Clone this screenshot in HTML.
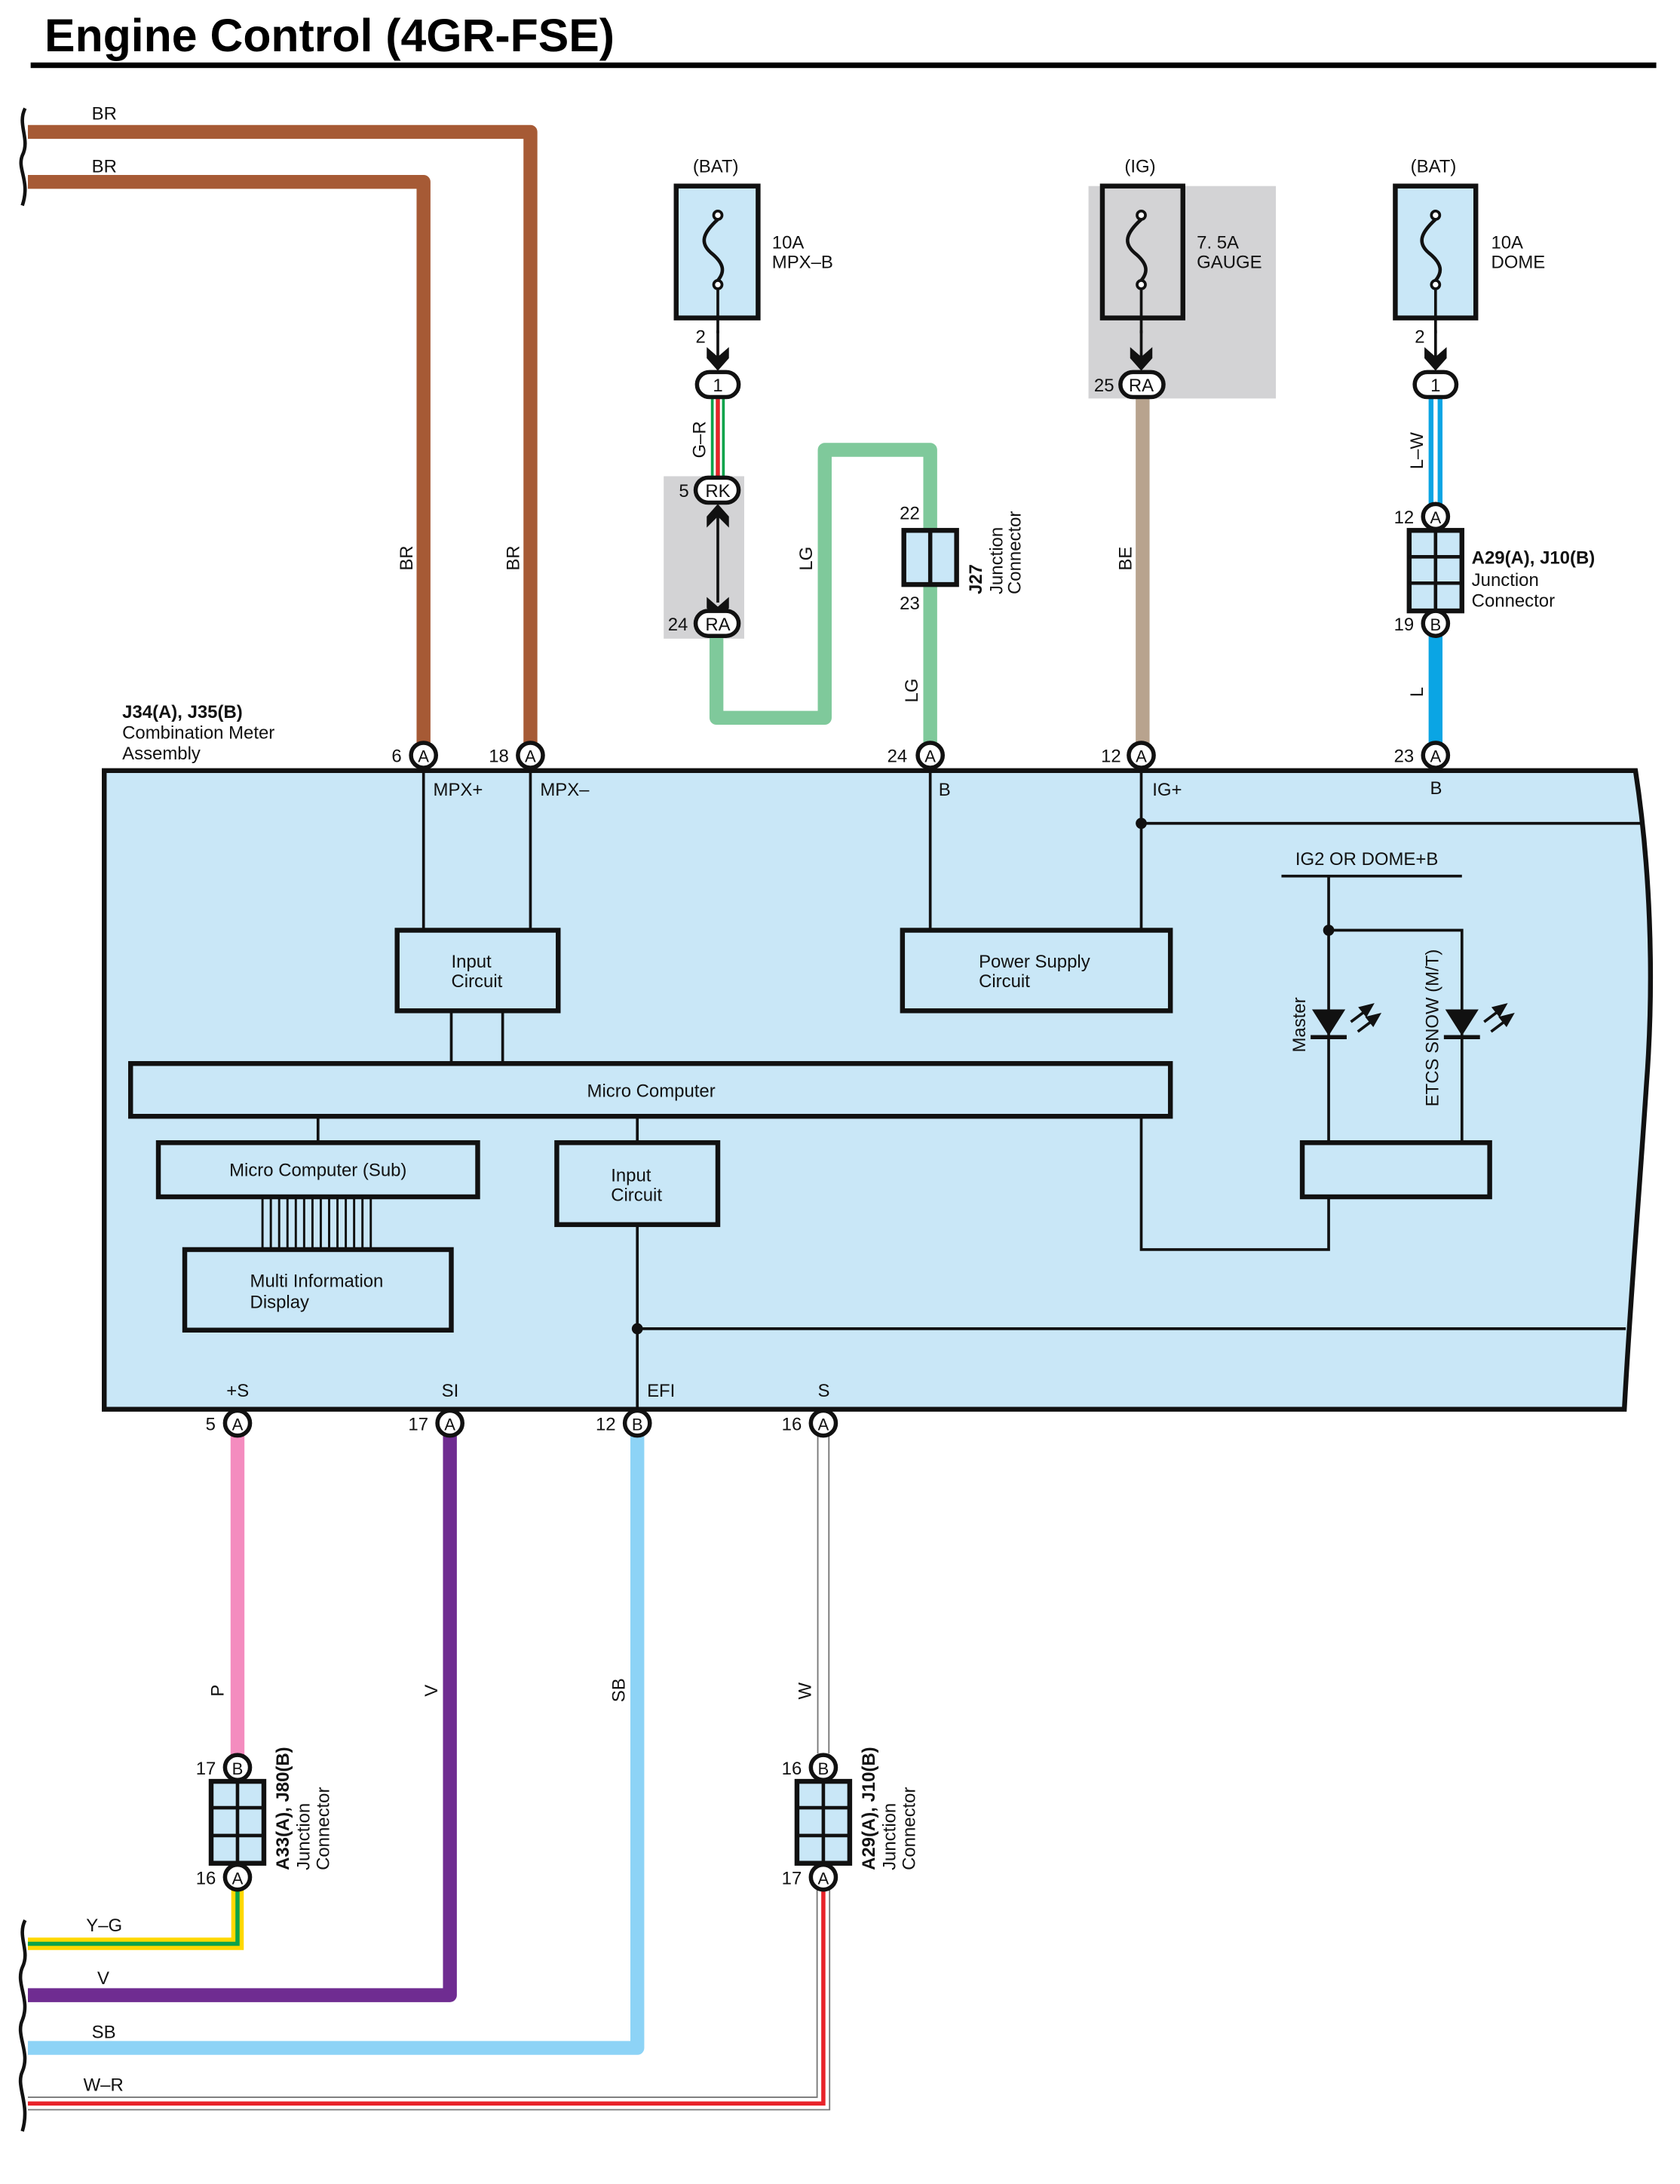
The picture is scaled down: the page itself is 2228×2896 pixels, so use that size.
<!DOCTYPE html>
<html><head><meta charset="utf-8"><style>
html,body{margin:0;padding:0;background:#fff;}
svg{display:block;}
text{font-family:"Liberation Sans",sans-serif;fill:#111;}
</style></head><body>
<svg width="2228" height="2896" viewBox="0 0 1210 1573" xmlns="http://www.w3.org/2000/svg">
<defs>
<g id="arr"><line x1="0" y1="-30" x2="0" y2="-8" stroke="#111" stroke-width="2"/><polygon points="-8,-18 0,-11 8,-18 8,-10 0,-1 -8,-10" fill="#111"/></g>
</defs>
<rect width="1210" height="1573" fill="#fff"/>
<!-- title -->
<text x="32" y="37" font-size="33" font-weight="bold" style="fill:#000">Engine Control (4GR-FSE)</text>
<rect x="22" y="45" width="1171" height="4" fill="#000"/>

<!-- grey backgrounds -->
<rect x="478" y="343" width="58" height="117" fill="#d3d3d5"/>
<rect x="784" y="134" width="135" height="153" fill="#d3d3d5"/>

<!-- BR wires -->
<path d="M20,95 H382 V544" fill="none" stroke="#a65a35" stroke-width="10" stroke-linejoin="round"/>
<path d="M20,131 H305 V544" fill="none" stroke="#a65a35" stroke-width="10" stroke-linejoin="round"/>
<text x="66" y="86" font-size="13">BR</text>
<text x="66" y="124" font-size="13">BR</text>
<text transform="translate(297,411) rotate(-90)" font-size="13">BR</text>
<text transform="translate(374,411) rotate(-90)" font-size="13">BR</text>
<path d="M18,78 C12,90 22,100 16,112 C12,122 22,130 16,148" fill="none" stroke="#111" stroke-width="2.5"/>

<!-- MPX-B fuse -->
<text x="499" y="124" font-size="13">(BAT)</text>
<rect x="487" y="134" width="59" height="95" fill="#c9e7f7" stroke="#111" stroke-width="3.5"/>
<circle cx="517" cy="155" r="3" fill="#fff" stroke="#111" stroke-width="2"/>
<circle cx="517" cy="205" r="3" fill="#fff" stroke="#111" stroke-width="2"/>
<path d="M517,158 C506,168 504,175 512,182 C522,190 522,196 517,202" fill="none" stroke="#111" stroke-width="2.5"/>
<text x="556" y="179" font-size="13">10A</text>
<text x="556" y="193" font-size="13">MPX–B</text>
<line x1="517" y1="208" x2="517" y2="240" stroke="#111" stroke-width="2"/>
<use href="#arr" x="517" y="268"/>
<text x="501" y="247" font-size="13">2</text>
<!-- G-R wire -->
<rect x="512" y="286" width="10" height="58" fill="#0ca34b"/>
<rect x="515.5" y="286" width="3" height="58" fill="#e8232a"/>
<rect x="514" y="286" width="1.5" height="58" fill="#fff"/><rect x="518.5" y="286" width="1.5" height="58" fill="#fff"/>
<text transform="translate(508,330) rotate(-90)" font-size="13">G–R</text>
<rect x="502" y="268" width="30" height="18" rx="9" fill="#fff" stroke="#111" stroke-width="3"/>
<text x="517" y="282" font-size="13" text-anchor="middle">1</text>
<!-- RK-RA -->
<line x1="517" y1="368" x2="517" y2="434" stroke="#111" stroke-width="2"/>
<polygon points="509,364 517,372 525,364 525,372 517,381 509,372" fill="#111" transform="rotate(180 517 372)"/>
<polygon points="509,430 517,437 525,430 525,438 517,447 509,438" fill="#111"/>
<!-- LG wire -->
<path d="M516,455 V517 H594 V324 H670 V544" fill="none" stroke="#7fc99b" stroke-width="10" stroke-linejoin="round"/>
<rect x="501" y="344" width="31" height="18" rx="9" fill="#fff" stroke="#111" stroke-width="3"/>
<text x="517" y="358" font-size="13" text-anchor="middle">RK</text>
<text x="489" y="358" font-size="13">5</text>
<rect x="501" y="440" width="31" height="18" rx="9" fill="#fff" stroke="#111" stroke-width="3"/>
<text x="517" y="454" font-size="13" text-anchor="middle">RA</text>
<text x="481" y="454" font-size="13">24</text>
<text transform="translate(585,411) rotate(-90)" font-size="13">LG</text>
<text transform="translate(661,506) rotate(-90)" font-size="13">LG</text>
<!-- J27 -->
<rect x="651" y="382" width="38" height="39" fill="#c9e7f7" stroke="#111" stroke-width="3.5"/>
<line x1="670" y1="382" x2="670" y2="421" stroke="#111" stroke-width="3"/>
<text x="648" y="374" font-size="13">22</text>
<text x="648" y="439" font-size="13">23</text>
<text transform="translate(707,428) rotate(-90)" font-size="13" font-weight="bold">J27</text>
<text transform="translate(722,428) rotate(-90)" font-size="13">Junction</text>
<text transform="translate(735,428) rotate(-90)" font-size="13">Connector</text>

<!-- IG GAUGE fuse -->
<text x="810" y="124" font-size="13">(IG)</text>
<rect x="794" y="134" width="58" height="95" fill="#d3d3d5" stroke="#111" stroke-width="3.5"/>
<circle cx="822" cy="155" r="3" fill="#fff" stroke="#111" stroke-width="2"/>
<circle cx="822" cy="205" r="3" fill="#fff" stroke="#111" stroke-width="2"/>
<path d="M822,158 C811,168 809,175 817,182 C827,190 827,196 822,202" fill="none" stroke="#111" stroke-width="2.5"/>
<text x="862" y="179" font-size="13">7. 5A</text>
<text x="862" y="193" font-size="13">GAUGE</text>
<line x1="822" y1="208" x2="822" y2="240" stroke="#111" stroke-width="2"/>
<use href="#arr" x="822" y="268"/>
<rect x="818" y="286" width="10" height="258" fill="#b8a38e"/>
<rect x="807" y="268" width="31" height="18" rx="9" fill="#fff" stroke="#111" stroke-width="3"/>
<text x="822" y="282" font-size="13" text-anchor="middle">RA</text>
<text x="788" y="282" font-size="13">25</text>
<text transform="translate(815,411) rotate(-90)" font-size="13">BE</text>

<!-- DOME fuse -->
<text x="1016" y="124" font-size="13">(BAT)</text>
<rect x="1005" y="134" width="58" height="95" fill="#c9e7f7" stroke="#111" stroke-width="3.5"/>
<circle cx="1034" cy="155" r="3" fill="#fff" stroke="#111" stroke-width="2"/>
<circle cx="1034" cy="205" r="3" fill="#fff" stroke="#111" stroke-width="2"/>
<path d="M1034,158 C1023,168 1021,175 1029,182 C1039,190 1039,196 1034,202" fill="none" stroke="#111" stroke-width="2.5"/>
<text x="1074" y="179" font-size="13">10A</text>
<text x="1074" y="193" font-size="13">DOME</text>
<line x1="1034" y1="208" x2="1034" y2="240" stroke="#111" stroke-width="2"/>
<use href="#arr" x="1034" y="268"/>
<text x="1019" y="247" font-size="13">2</text>
<rect x="1029" y="286" width="10" height="80" fill="#0aa5e4"/>
<rect x="1032.5" y="286" width="3" height="80" fill="#fff"/>
<rect x="1019" y="268" width="30" height="18" rx="9" fill="#fff" stroke="#111" stroke-width="3"/>
<text x="1034" y="282" font-size="13" text-anchor="middle">1</text>
<text transform="translate(1025,338) rotate(-90)" font-size="13">L–W</text>
<rect x="1029" y="458" width="10" height="86" fill="#0aa5e4"/>
<text transform="translate(1025,502) rotate(-90)" font-size="13">L</text>
<rect x="1015" y="382" width="38" height="58" fill="#c9e7f7" stroke="#111" stroke-width="3.5"/>
<line x1="1034" y1="382" x2="1034" y2="440" stroke="#111" stroke-width="2.5"/>
<line x1="1015" y1="401" x2="1053" y2="401" stroke="#111" stroke-width="2.5"/>
<line x1="1015" y1="420" x2="1053" y2="420" stroke="#111" stroke-width="2.5"/>
<circle cx="1034" cy="372" r="9" fill="#fff" stroke="#111" stroke-width="3"/>
<text x="1034" y="377" font-size="12" text-anchor="middle">A</text>
<text x="1004" y="377" font-size="13">12</text>
<circle cx="1034" cy="449" r="9" fill="#fff" stroke="#111" stroke-width="3"/>
<text x="1034" y="454" font-size="12" text-anchor="middle">B</text>
<text x="1004" y="454" font-size="13">19</text>
<text x="1060" y="406" font-size="13" font-weight="bold">A29(A), J10(B)</text>
<text x="1060" y="422" font-size="13">Junction</text>
<text x="1060" y="437" font-size="13">Connector</text>

<!-- Meter body -->
<path d="M75,555 H1178 C1188,620 1192,700 1186,780 C1180,870 1174,940 1170,1015 H75 Z" fill="#c9e7f7" stroke="#111" stroke-width="3.5"/>
<text x="88" y="517" font-size="13" font-weight="bold">J34(A), J35(B)</text>
<text x="88" y="532" font-size="13">Combination Meter</text>
<text x="88" y="547" font-size="13">Assembly</text>

<g stroke="#111" stroke-width="2" fill="none">
<line x1="305" y1="555" x2="305" y2="670"/>
<line x1="382" y1="555" x2="382" y2="670"/>
<line x1="670" y1="555" x2="670" y2="670"/>
<line x1="822" y1="555" x2="822" y2="670"/>
<line x1="822" y1="593" x2="1183" y2="593"/>
<line x1="325" y1="728" x2="325" y2="766"/>
<line x1="362" y1="728" x2="362" y2="766"/>
<line x1="229" y1="804" x2="229" y2="823"/>
<line x1="459" y1="804" x2="459" y2="823"/>
<path d="M822,804 V900 H957 V862"/>
<line x1="459" y1="882" x2="459" y2="1015"/>
<line x1="459" y1="957" x2="1171" y2="957"/>
<line x1="923" y1="631" x2="1053" y2="631"/>
<line x1="957" y1="631" x2="957" y2="823"/>
<path d="M957,670 H1053 V823"/>
</g>
<g stroke="#111" stroke-width="1.6">
<line x1="189" y1="862" x2="189" y2="900"/><line x1="195" y1="862" x2="195" y2="900"/><line x1="201" y1="862" x2="201" y2="900"/><line x1="207" y1="862" x2="207" y2="900"/><line x1="213" y1="862" x2="213" y2="900"/><line x1="219" y1="862" x2="219" y2="900"/><line x1="225" y1="862" x2="225" y2="900"/><line x1="231" y1="862" x2="231" y2="900"/><line x1="237" y1="862" x2="237" y2="900"/><line x1="243" y1="862" x2="243" y2="900"/><line x1="249" y1="862" x2="249" y2="900"/><line x1="255" y1="862" x2="255" y2="900"/><line x1="261" y1="862" x2="261" y2="900"/><line x1="267" y1="862" x2="267" y2="900"/>
</g>
<circle cx="822" cy="593" r="4" fill="#111"/>
<circle cx="459" cy="957" r="4" fill="#111"/>
<circle cx="957" cy="670" r="4" fill="#111"/>

<g fill="#c9e7f7" stroke="#111" stroke-width="3.5">
<rect x="286" y="670" width="116" height="58"/>
<rect x="650" y="670" width="193" height="58"/>
<rect x="94" y="766" width="749" height="38"/>
<rect x="114" y="823" width="230" height="39"/>
<rect x="133" y="900" width="192" height="58"/>
<rect x="401" y="823" width="116" height="59"/>
<rect x="938" y="823" width="135" height="39"/>
</g>
<text x="325" y="697" font-size="13">Input</text>
<text x="325" y="711" font-size="13">Circuit</text>
<text x="705" y="697" font-size="13">Power Supply</text>
<text x="705" y="711" font-size="13">Circuit</text>
<text x="469" y="790" font-size="13" text-anchor="middle">Micro Computer</text>
<text x="229" y="847" font-size="13" text-anchor="middle">Micro Computer (Sub)</text>
<text x="180" y="927" font-size="13">Multi Information</text>
<text x="180" y="942" font-size="13">Display</text>
<text x="440" y="851" font-size="13">Input</text>
<text x="440" y="865" font-size="13">Circuit</text>
<text x="312" y="573" font-size="13">MPX+</text>
<text x="389" y="573" font-size="13">MPX–</text>
<text x="676" y="573" font-size="13">B</text>
<text x="830" y="573" font-size="13">IG+</text>
<text x="1030" y="572" font-size="13">B</text>
<text x="933" y="623" font-size="13">IG2 OR DOME+B</text>
<!-- LEDs -->
<polygon points="945,727 969,727 957,746" fill="#111"/>
<line x1="944" y1="747" x2="970" y2="747" stroke="#111" stroke-width="3"/>
<polygon points="1041,727 1065,727 1053,746" fill="#111"/>
<line x1="1040" y1="747" x2="1066" y2="747" stroke="#111" stroke-width="3"/>
<g stroke="#111" stroke-width="2" fill="#111">
<line x1="973" y1="736" x2="985" y2="727"/><polygon points="988,724 980,726 984,731"/>
<line x1="978" y1="743" x2="990" y2="734"/><polygon points="993,731 985,733 989,738"/>
<line x1="1069" y1="736" x2="1081" y2="727"/><polygon points="1084,724 1076,726 1080,731"/>
<line x1="1074" y1="743" x2="1086" y2="734"/><polygon points="1089,731 1081,733 1085,738"/>
</g>
<text transform="translate(940,758) rotate(-90)" font-size="13">Master</text>
<text transform="translate(1036,797) rotate(-90)" font-size="13">ETCS SNOW (M/T)</text>

<!-- top connectors on meter -->
<g font-size="13">
<circle cx="305" cy="544" r="9" fill="#fff" stroke="#111" stroke-width="3"/><text x="305" y="549" font-size="12" text-anchor="middle">A</text><text x="282" y="549">6</text>
<circle cx="382" cy="544" r="9" fill="#fff" stroke="#111" stroke-width="3"/><text x="382" y="549" font-size="12" text-anchor="middle">A</text><text x="352" y="549">18</text>
<circle cx="670" cy="544" r="9" fill="#fff" stroke="#111" stroke-width="3"/><text x="670" y="549" font-size="12" text-anchor="middle">A</text><text x="639" y="549">24</text>
<circle cx="822" cy="544" r="9" fill="#fff" stroke="#111" stroke-width="3"/><text x="822" y="549" font-size="12" text-anchor="middle">A</text><text x="793" y="549">12</text>
<circle cx="1034" cy="544" r="9" fill="#fff" stroke="#111" stroke-width="3"/><text x="1034" y="549" font-size="12" text-anchor="middle">A</text><text x="1004" y="549">23</text>
</g>

<!-- bottom wires -->
<rect x="166" y="1034" width="10" height="230" fill="#f48cbf"/>
<path d="M324,1034 V1437 H20" fill="none" stroke="#6f2c91" stroke-width="10" stroke-linejoin="round"/>
<path d="M459,1034 V1475 H20" fill="none" stroke="#8dd3f6" stroke-width="10" stroke-linejoin="round"/>
<path d="M593,1034 V1263" fill="none" stroke="#777" stroke-width="9"/>
<path d="M593,1034 V1263" fill="none" stroke="#fff" stroke-width="7"/>
<!-- Y-G -->
<path d="M171,1360 V1400 H20" fill="none" stroke="#ffd800" stroke-width="9"/>
<path d="M171,1360 V1400 H20" fill="none" stroke="#0ca34b" stroke-width="3"/>
<!-- W-R -->
<path d="M593,1360 V1515 H20" fill="none" stroke="#777" stroke-width="10"/>
<path d="M593,1360 V1515 H20" fill="none" stroke="#fff" stroke-width="8"/>
<path d="M593,1360 V1515 H20" fill="none" stroke="#e8232a" stroke-width="3"/>
<path d="M18,1383 C12,1395 22,1405 16,1417 C11,1429 22,1440 16,1455 C11,1466 22,1478 16,1492 C11,1503 22,1515 16,1535" fill="none" stroke="#111" stroke-width="2.5"/>
<text x="62" y="1391" font-size="13">Y–G</text>
<text x="70" y="1429" font-size="13">V</text>
<text x="66" y="1468" font-size="13">SB</text>
<text x="60" y="1506" font-size="13">W–R</text>
<text transform="translate(161,1222) rotate(-90)" font-size="13">P</text>
<text transform="translate(315,1222) rotate(-90)" font-size="13">V</text>
<text transform="translate(450,1226) rotate(-90)" font-size="13">SB</text>
<text transform="translate(584,1224) rotate(-90)" font-size="13">W</text>

<!-- bottom meter connectors -->
<text x="163" y="1006" font-size="13">+S</text>
<text x="318" y="1006" font-size="13">SI</text>
<text x="466" y="1006" font-size="13">EFI</text>
<text x="589" y="1006" font-size="13">S</text>
<g font-size="13">
<circle cx="171" cy="1025" r="9" fill="#fff" stroke="#111" stroke-width="3"/><text x="171" y="1030" font-size="12" text-anchor="middle">A</text><text x="148" y="1030">5</text>
<circle cx="324" cy="1025" r="9" fill="#fff" stroke="#111" stroke-width="3"/><text x="324" y="1030" font-size="12" text-anchor="middle">A</text><text x="294" y="1030">17</text>
<circle cx="459" cy="1025" r="9" fill="#fff" stroke="#111" stroke-width="3"/><text x="459" y="1030" font-size="12" text-anchor="middle">B</text><text x="429" y="1030">12</text>
<circle cx="593" cy="1025" r="9" fill="#fff" stroke="#111" stroke-width="3"/><text x="593" y="1030" font-size="12" text-anchor="middle">A</text><text x="563" y="1030">16</text>
</g>

<!-- junction connectors bottom -->
<g>
<rect x="152" y="1283" width="38" height="59" fill="#c9e7f7" stroke="#111" stroke-width="3.5"/>
<line x1="171" y1="1283" x2="171" y2="1342" stroke="#111" stroke-width="2.5"/>
<line x1="152" y1="1302" x2="190" y2="1302" stroke="#111" stroke-width="2.5"/>
<line x1="152" y1="1322" x2="190" y2="1322" stroke="#111" stroke-width="2.5"/>
<circle cx="171" cy="1273" r="9" fill="#fff" stroke="#111" stroke-width="3"/><text x="171" y="1278" font-size="12" text-anchor="middle">B</text><text x="141" y="1278" font-size="13">17</text>
<circle cx="171" cy="1352" r="9" fill="#fff" stroke="#111" stroke-width="3"/><text x="171" y="1357" font-size="12" text-anchor="middle">A</text><text x="141" y="1357" font-size="13">16</text>
<text transform="translate(208,1347) rotate(-90)" font-size="13" font-weight="bold">A33(A), J80(B)</text>
<text transform="translate(223,1347) rotate(-90)" font-size="13">Junction</text>
<text transform="translate(237,1347) rotate(-90)" font-size="13">Connector</text>
</g>
<g>
<rect x="574" y="1283" width="38" height="59" fill="#c9e7f7" stroke="#111" stroke-width="3.5"/>
<line x1="593" y1="1283" x2="593" y2="1342" stroke="#111" stroke-width="2.5"/>
<line x1="574" y1="1302" x2="612" y2="1302" stroke="#111" stroke-width="2.5"/>
<line x1="574" y1="1322" x2="612" y2="1322" stroke="#111" stroke-width="2.5"/>
<circle cx="593" cy="1273" r="9" fill="#fff" stroke="#111" stroke-width="3"/><text x="593" y="1278" font-size="12" text-anchor="middle">B</text><text x="563" y="1278" font-size="13">16</text>
<circle cx="593" cy="1352" r="9" fill="#fff" stroke="#111" stroke-width="3"/><text x="593" y="1357" font-size="12" text-anchor="middle">A</text><text x="563" y="1357" font-size="13">17</text>
<text transform="translate(630,1347) rotate(-90)" font-size="13" font-weight="bold">A29(A), J10(B)</text>
<text transform="translate(645,1347) rotate(-90)" font-size="13">Junction</text>
<text transform="translate(659,1347) rotate(-90)" font-size="13">Connector</text>
</g>
</svg>
</body></html>
